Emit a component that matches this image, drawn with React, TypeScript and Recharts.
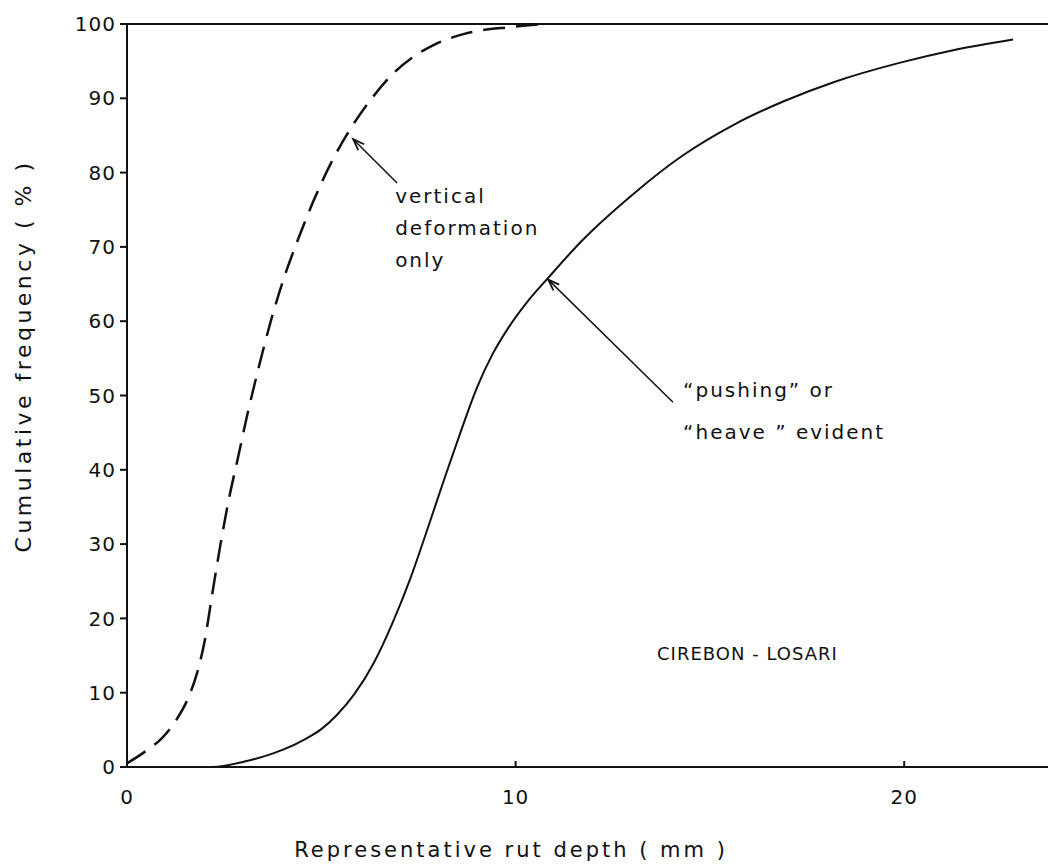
import { LineChart, Line, XAxis, YAxis, ReferenceLine, ReferenceDot } from "recharts";

// dashed curve: vertical deformation only
const verticalX = [0, 0.5, 0.9, 1.3, 1.6, 1.8, 2.0, 2.2, 2.4, 2.6, 2.85, 3.1, 3.4, 3.7, 4.0, 4.4, 4.8, 5.3, 5.8, 6.3, 6.9, 7.4, 7.9, 8.7, 9.9, 10.7];
const verticalY = [0.5, 2.2, 3.9, 6.6, 9.6, 12.6, 17, 23.5, 29.8, 35.5, 41.5, 47.5, 54, 60, 65.2, 71, 76.2, 81.8, 86.3, 90, 93.6, 95.7, 97.2, 98.7, 99.6, 100];

// solid curve: "pushing" or "heave" evident
const pushingX = [0, 2.2, 3.0, 3.5, 4.0, 4.6, 5.0, 5.4, 5.85, 6.35, 6.85, 7.3, 7.75, 8.2, 8.6, 9.0, 9.4, 9.8, 10.3, 10.85, 11.7, 13.0, 14.3, 15.6, 16.9, 18.2, 19.9, 21.2, 22.8];
const pushingY = [0, 0, 0.7, 1.4, 2.3, 3.8, 5.1, 7.0, 9.8, 14, 19.6, 25.5, 32.3, 39.3, 45.3, 51, 55.5, 59, 62.6, 65.9, 70.8, 77, 82.3, 86.4, 89.6, 92.2, 94.8, 96.4, 97.9];

const xTicks = [0, 10, 20];
const yTicks = [0, 10, 20, 30, 40, 50, 60, 70, 80, 90, 100];

const verticalData = verticalX.map((x, i) => ({ x, y: verticalY[i] }));
const pushingData = pushingX.map((x, i) => ({ x, y: pushingY[i] }));

const font = "'DejaVu Sans', sans-serif";
const ink = "#111";

function Arrow(props: any) {
  const { x1, y1, x2, y2 } = props;
  const a = Math.atan2(y2 - y1, x2 - x1);
  const len = 12;
  const spread = 0.35;
  const p1 = [x2 - len * Math.cos(a - spread), y2 - len * Math.sin(a - spread)];
  const p2 = [x2 - len * Math.cos(a + spread), y2 - len * Math.sin(a + spread)];
  return (
    <g>
      <line x1={x1} y1={y1} x2={x2} y2={y2} stroke={ink} strokeWidth={1.5} />
      <path d={`M${p1[0]},${p1[1]} L${x2},${y2} L${p2[0]},${p2[1]}`} fill="none" stroke={ink} strokeWidth={1.8} />
    </g>
  );
}

function textBlock(lines: string[], gap: number, size: number, spacing: number) {
  return (p: any) => (
    <text x={p.cx} y={p.cy} fontFamily={font} fontSize={size} fill={ink} letterSpacing={spacing}>
      {lines.map((t, i) => (
        <tspan key={i} x={p.cx} dy={i === 0 ? 0 : gap}>
          {t}
        </tspan>
      ))}
    </text>
  );
}

const yTitle = (p: any) => {
  const vb = p.viewBox;
  const cx = vb.x - 34;
  const cy = vb.y + 332;
  return (
    <text x={cx} y={cy} transform={`rotate(-90 ${cx} ${cy})`} textAnchor="middle" dominantBaseline="central" fontFamily={font} fontSize={22} fill={ink} letterSpacing={3.5}>
      Cumulative frequency ( % )
    </text>
  );
};

const xTitle = (p: any) => {
  const vb = p.viewBox;
  return (
    <text x={vb.x + 384} y={vb.y + 90} textAnchor="middle" fontFamily={font} fontSize={21} fill={ink} letterSpacing={3}>
      Representative rut depth ( mm )
    </text>
  );
};

export default function App() {
  return (
    <div style={{ position: "absolute", left: 0, top: 0, width: 1051, height: 868, background: "#fff" }}>
      <LineChart width={1051} height={868} margin={{ top: 24, right: 3, left: 57, bottom: 0 }}>
        <XAxis
          type="number"
          dataKey="x"
          domain={[0, 23.7]}
          ticks={xTicks}
          height={101}
          tickSize={-6}
          tickMargin={29}
          axisLine={{ stroke: ink, strokeWidth: 2 }}
          tickLine={{ stroke: ink, strokeWidth: 2 }}
          tick={{ fontFamily: font, fontSize: 20, fill: ink, letterSpacing: 1 }}
          label={{ content: xTitle }}
        />
        <YAxis
          type="number"
          domain={[0, 100]}
          ticks={yTicks}
          width={70}
          tickSize={7}
          tickMargin={4}
          axisLine={{ stroke: ink, strokeWidth: 2 }}
          tickLine={{ stroke: ink, strokeWidth: 2 }}
          tick={{ fontFamily: font, fontSize: 20, fill: ink, letterSpacing: 1 }}
          label={{ content: yTitle }}
        />
        <ReferenceLine y={100} stroke={ink} strokeWidth={2} />
        <Line
          data={verticalData}
          dataKey="y"
          type="monotone"
          stroke={ink}
          strokeWidth={2.5}
          strokeDasharray="22 11"
          dot={false}
          isAnimationActive={false}
        />
        <Line
          data={pushingData}
          dataKey="y"
          type="monotone"
          stroke={ink}
          strokeWidth={2}
          dot={false}
          isAnimationActive={false}
        />
        <ReferenceLine segment={[{ x: 6.95, y: 78.6 }, { x: 5.82, y: 84.5 }]} shape={Arrow} />
        <ReferenceLine segment={[{ x: 14.05, y: 49.1 }, { x: 10.84, y: 65.6 }]} shape={Arrow} />
        <ReferenceDot x={6.9} y={75.9} r={0} shape={textBlock(["vertical", "deformation", "only"], 32, 20, 2)} />
        <ReferenceDot x={14.31} y={49.8} r={0} shape={textBlock(["\u201cpushing\u201d or", "\u201cheave \u201d evident"], 42, 20, 2)} />
        <ReferenceDot x={13.64} y={14.4} r={0} shape={textBlock(["CIREBON - LOSARI"], 0, 18, 1)} />
      </LineChart>
    </div>
  );
}
